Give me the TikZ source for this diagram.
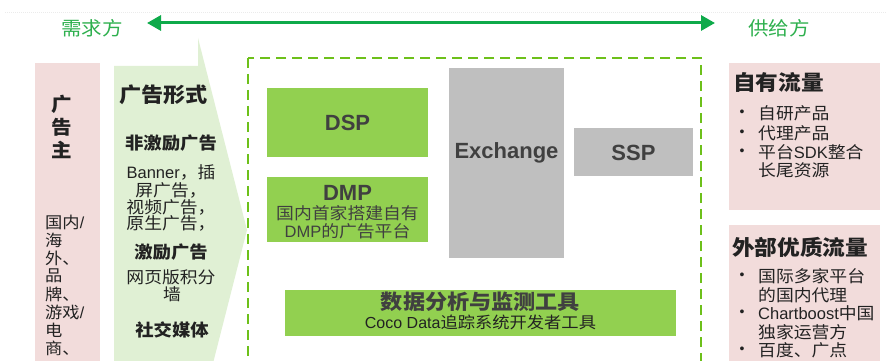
\documentclass[tikz,border=0pt]{standalone}
\usepackage{fontspec}
\setmainfont[FakeStretch=1.08]{Noto Sans CJK SC}
\newfontfamily\lat{Liberation Sans}
\usetikzlibrary{arrows.meta}
\definecolor{pinkbg}{HTML}{F2DCDB}
\definecolor{lgreen}{HTML}{E0F0D4}
\definecolor{boxgreen}{HTML}{92D050}
\definecolor{boxgray}{HTML}{BFBFBF}
\definecolor{dashgreen}{HTML}{6DC01A}
\definecolor{arrgreen}{HTML}{0EAA4A}
\definecolor{labgreen}{HTML}{2EB04E}
\definecolor{txtgray}{HTML}{404040}
\definecolor{txtdark}{HTML}{222222}
\newcommand{\fs}[2]{\fontsize{#1pt}{#2pt}\selectfont}
\begin{document}
\begin{tikzpicture}[x=1pt,y=-1pt,
  txt/.style={inner sep=0pt, text=txtdark},
  lab/.style={inner sep=0pt, text=labgreen, font=\fs{19}{21}},
  gbox/.style={fill=boxgreen, inner sep=0pt},
  graybox/.style={fill=boxgray, inner sep=0pt},
  btitle/.style={inner sep=0pt, text=txtgray, font=\fs{22}{24}\lat\bfseries},
  bbody/.style={inner sep=0pt, text=txtgray, font=\fs{16.5}{18}},
  leftitem/.style={txt, anchor=west, font=\fs{16}{18}},
  formhead/.style={txt, font=\fs{17}{19}\bfseries},
  formbody/.style={txt, font=\fs{16.5}{18}},
  rhead/.style={txt, anchor=west, font=\fs{21}{23}\bfseries},
  ritem/.style={txt, anchor=west, font=\fs{16.5}{18}},
  bul/.style={txt, font=\fs{14}{16}\lat},
  arr/.style={draw=arrgreen, line width=3pt,
    {Triangle[length=14pt,width=15pt]}-{Triangle[length=14pt,width=15pt]}}
]
\useasboundingbox (0,0) rectangle (887,361);
\clip (0,0) rectangle (887,361);
\fill[white] (0,0) rectangle (887,361);

% faint top line
\draw[draw=black!8, line width=1pt, dash pattern=on 1pt off 1pt] (5,13) -- (887,13);

% demand / supply labels and arrow
\node[lab] (dem) at (92,28) {需求方};
\node[lab] (sup) at (779,28) {供给方};
\coordinate (al) at (147,23);
\coordinate (ar) at (715,23);
\draw[arr] (al) -- (ar);

% left pink box
\fill[pinkbg] (35,63) rectangle (100,380);
\node[txt, font=\fs{19}{21}\bfseries] (g1) at (62,104) {广};
\node[txt, font=\fs{19}{21}\bfseries] (g2) at (62,127) {告};
\node[txt, font=\fs{19}{21}\bfseries] (g3) at (62,150) {主};
\node[leftitem] (l1) at (45,222) {国内\lat/};
\node[leftitem] (l2) at (45,240) {海};
\node[leftitem] (l3) at (45,258) {外、};
\node[leftitem] (l4) at (45,276) {品};
\node[leftitem] (l5) at (45,294) {牌、};
\node[leftitem] (l6) at (45,312) {游戏\lat/};
\node[leftitem] (l7) at (45,330) {电};
\node[leftitem] (l8) at (45,348) {商、};

% light green chevron
\fill[lgreen] (114,66) -- (198,66) -- (198,38) -- (247,230) -- (198,422) -- (114,422) -- cycle;
\node[txt, anchor=west, font=\fs{20.5}{22}\bfseries] (fh) at (119,95) {广告形式};
\node[formhead] (f1) at (171,143) {非激励广告};
\node[formbody] (f2) at (171,172) {{\lat Banner}，插};
\node[formbody] (f3) at (171,190) {屏广告，};
\node[formbody] (f4) at (171,207) {视频广告，};
\node[formbody] (f5) at (171,223) {原生广告，};
\node[formhead] (f6) at (171,252) {激励广告};
\node[formbody] (f7) at (171,277) {网页版积分};
\node[formbody] (f8) at (172,294) {墙};
\node[formhead] (f9) at (172,330) {社交媒体};

% dashed platform frame
\draw[draw=dashgreen, line width=2.6pt, dash pattern=on 10pt off 6pt] (248,58) rectangle (701,400);

% platform boxes
\node[gbox, minimum width=161pt, minimum height=69pt] (dsp) at (347.5,122.5) {};
\node[btitle] (dspt) at (347.5,123) {DSP};
\node[gbox, minimum width=161pt, minimum height=65pt] (dmp) at (347.5,209.5) {};
\node[btitle] (dmpt) at (347.5,193) {DMP};
\node[bbody] (dmp1) at (347.5,213) {国内首家搭建自有};
\node[bbody] (dmp2) at (347.5,231) {{\lat DMP}的广告平台};
\node[graybox, minimum width=115pt, minimum height=190pt] (exc) at (506.5,163) {};
\node[btitle] (exct) at (506.5,153) {Exchange};
\node[graybox, minimum width=119pt, minimum height=48pt] (ssp) at (633.5,152) {};
\node[btitle] (sspt) at (633.5,153) {SSP};
\node[gbox, minimum width=391pt, minimum height=46pt] (data) at (480.5,313) {};
\node[inner sep=0pt, text=txtgray, font=\fs{20.5}{22}\bfseries] (data1) at (480.5,302) {数据分析与监测工具};
\node[inner sep=0pt, text=txtdark, font=\fs{16}{18}] (data2) at (480.5,322) {{\lat Coco Data}追踪系统开发者工具};

% right pink boxes
\fill[pinkbg] (729,63) rectangle (880,210);
\fill[pinkbg] (729,225) rectangle (880,380);
\node[rhead] (r1h) at (733,83) {自有流量};
\node[bul] (b1) at (742,113) {•};
\node[ritem] (r11) at (758,113) {自研产品};
\node[bul] (b2) at (742,133) {•};
\node[ritem] (r12) at (758,133) {代理产品};
\node[bul] (b3) at (742,152) {•};
\node[ritem] (r13) at (758,152) {平台{\lat SDK}整合};
\node[ritem] (r14) at (758,170) {长尾资源};
\node[rhead] (r2h) at (732,247) {外部优质流量};
\node[bul] (b4) at (742,276) {•};
\node[ritem] (r21) at (758,276) {国际多家平台};
\node[ritem] (r22) at (758,295) {的国内代理};
\node[bul] (b5) at (742,313) {•};
\node[ritem] (r23) at (758,313) {{\lat Chartboost}中国};
\node[ritem] (r24) at (758,332) {独家运营方};
\node[bul] (b6) at (742,350) {•};
\node[ritem] (r25) at (758,350) {百度、广点};
\end{tikzpicture}
\end{document}
